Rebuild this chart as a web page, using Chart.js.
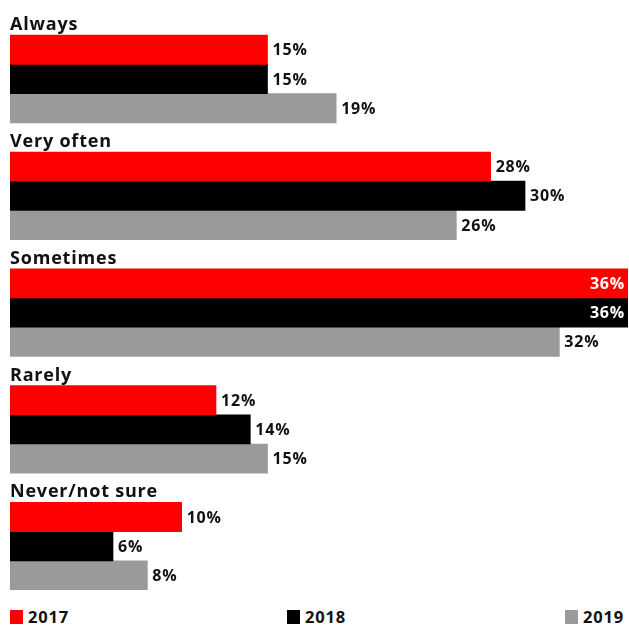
<!DOCTYPE html>
<html>
<head>
<meta charset="utf-8">
<script src="https://cdn.jsdelivr.net/npm/chart.js@4"></script>
<style>
  html, body { margin: 0; padding: 0; background: #fff; }
  #wrap { position: relative; width: 629px; height: 626px; overflow: hidden; }
  #c { position: absolute; left: 0; top: 0; }
  .leg { position: absolute; top: 608px; display: flex; align-items: center; font-family: "Open Sans", sans-serif; font-weight: 700; font-size: 16.5px; letter-spacing: 0.8px; color: #111; line-height: 18px; }
  .leg i { display: inline-block; width: 13px; height: 14px; margin-right: 5px; }
</style>
</head>
<body>
<div id="wrap">
  <canvas id="c" width="629" height="600"></canvas>
  <div class="leg" style="left:10px"><i style="background:#ff0000"></i>2017</div>
  <div class="leg" style="left:287px"><i style="background:#000000"></i>2018</div>
  <div class="leg" style="left:565px"><i style="background:#9a9a9a"></i>2019</div>
</div>
<script>
const categories = ["Always", "Very often", "Sometimes", "Rarely", "Never/not sure"];
const seriesNames = ["2017", "2018", "2019"];
const values2017 = [15, 28, 36, 12, 10];
const values2018 = [15, 30, 36, 14, 6];
const values2019 = [19, 26, 32, 15, 8];
const colors = ["#ff0000", "#000000", "#9a9a9a"];

const FONT = '"Open Sans", sans-serif';

const labelPlugin = {
  id: 'labels',
  afterDatasetsDraw(chart) {
    const ctx = chart.ctx;
    const ys = chart.scales.y;
    const area = chart.chartArea;
    const band = (ys.bottom - ys.top) / categories.length;
    ctx.save();
    ctx.letterSpacing = '0.8px';
    // category titles
    ctx.font = '700 18px ' + FONT;
    ctx.fillStyle = '#111';
    ctx.textAlign = 'left';
    ctx.textBaseline = 'alphabetic';
    categories.forEach((c, i) => {
      const top = ys.top + band * i;
      ctx.fillText(c, 10, top + band / 4 - 5);
    });
    // value labels
    ctx.font = '700 16px ' + FONT;
    ctx.textBaseline = 'middle';
    for (let d = 1; d < chart.data.datasets.length; d++) {
      const meta = chart.getDatasetMeta(d);
      meta.data.forEach((bar, i) => {
        const v = chart.data.datasets[d].data[i];
        const txt = v + '%';
        const w = ctx.measureText(txt).width;
        if (bar.x + 5 + w > area.right) {
          ctx.fillStyle = '#ffffff';
          ctx.textAlign = 'right';
          ctx.fillText(txt, bar.x - 3, bar.y + 1);
        } else {
          ctx.fillStyle = '#111';
          ctx.textAlign = 'left';
          ctx.fillText(txt, bar.x + 5, bar.y + 1);
        }
      });
    }
    ctx.restore();
  }
};

new Chart(document.getElementById('c'), {
  type: 'bar',
  data: {
    labels: categories,
    datasets: [
      { label: 'title', data: categories.map(() => null), backgroundColor: 'transparent' },
      { label: seriesNames[0], data: values2017, backgroundColor: colors[0] },
      { label: seriesNames[1], data: values2018, backgroundColor: colors[1] },
      { label: seriesNames[2], data: values2019, backgroundColor: colors[2] }
    ]
  },
  options: {
    indexAxis: 'y',
    responsive: false,
    animation: false,
    devicePixelRatio: 1,
    layout: { padding: { left: 10, right: 1, top: 6, bottom: 10 } },
    datasets: { bar: { categoryPercentage: 1, barPercentage: 1, borderWidth: 0 } },
    scales: {
      x: { display: false, min: 0, max: 36 },
      y: { display: false }
    },
    plugins: { legend: { display: false }, tooltip: { enabled: false } }
  },
  plugins: [labelPlugin]
});
</script>
</body>
</html>
